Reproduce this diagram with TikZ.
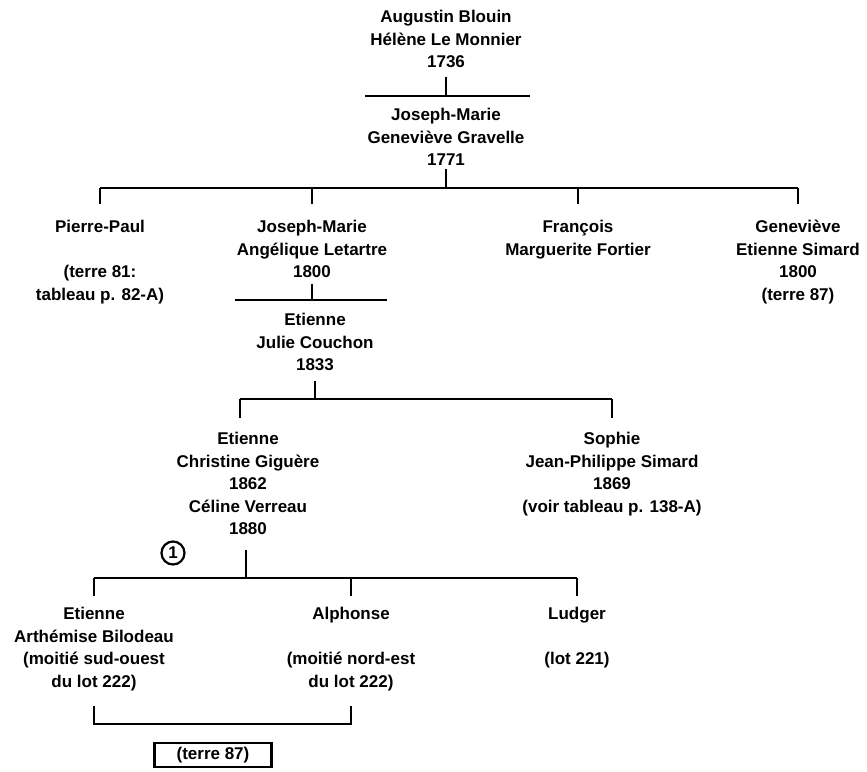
\documentclass[tikz,border=0pt]{standalone}
\usepackage{fontspec}
\setmainfont{Liberation Sans}
\usetikzlibrary{positioning}
\tikzset{fam/.style={align=center, anchor=north, inner sep=0pt, font=\bfseries\fontsize{17}{22.5}\selectfont},
         bar/.style={line width=2.2pt}}

\begin{document}
\begin{tikzpicture}[x=1pt,y=-1pt]
                   \useasboundingbox (0,0) rectangle (867,771);
                   \node[fam] (aug) at (446,10) {Augustin Blouin\\Hélène Le Monnier\\1736};
                   \node[fam] (jm1) at (446,108) {Joseph-Marie\\Geneviève Gravelle\\1771};
                   \node[fam] (pp) at (100,220) {Pierre-Paul\\[22.5pt](terre 81:\\tableau p. 82-A)};
                   \node[fam] (jm2) at (312,220) {Joseph-Marie\\Angélique Letartre\\1800};
                   \node[fam] (fr) at (578,220) {François\\Marguerite Fortier};
                   \node[fam] (gv) at (798,220) {Geneviève\\Etienne Simard\\1800\\(terre 87)};
                   \node[fam] (et3) at (315,313) {Etienne\\Julie Couchon\\1833};
                   \node[fam] (et4) at (248,432) {Etienne\\Christine Giguère\\1862\\Céline Verreau\\1880};
                   \node[fam] (so4) at (612,432) {Sophie\\Jean-Philippe Simard\\1869\\(voir tableau p. 138-A)};
                   \node[fam] (e5) at (94,607) {Etienne\\Arthémise Bilodeau\\(moitié sud-ouest\\du lot 222)};
                   \node[fam] (al) at (351,607) {Alphonse\\[22.5pt](moitié nord-est\\du lot 222)};
                   \node[fam] (lu) at (577,607) {Ludger\\[22.5pt](lot 221)};
                   \node[fam, anchor=center, draw, line width=2.6pt, minimum width=117pt, minimum height=24pt] (tb) at (213,755) {(terre 87)};
                   \node[fam, anchor=center, draw, circle, line width=2.2pt, minimum size=23pt] (c1) at (173,553) {1};

                   \coordinate (b0l) at (365,96);
                   \coordinate (b0r) at (530,96);
                   \coordinate (b1) at (447,188);
                   \coordinate (b2l) at (235,300);
                   \coordinate (b2r) at (387,300);
                   \coordinate (b3l) at (240,399);
                   \coordinate (b4) at (246,578);
                   \coordinate (kb) at (220,724);

                   % 1736
                   \draw[bar] (b0l) -- (b0r);
                   \draw[bar, shorten <=9pt] (aug.south) -- (aug.south |- b0l);
                   % 1771
                   \draw[bar, shorten <=3pt] (jm1.south) -- (jm1.south |- b1);
                   \draw[bar] (pp.north |- b1) -- (gv.north |- b1);
                   \foreach \n in {pp,jm2,fr,gv}
                       \draw[bar, shorten >=16pt] (\n.north |- b1) -- (\n.north);
                   % 1800
                   \draw[bar] (b2l) -- (b2r);
                   \draw[bar, shorten <=6pt] (jm2.south) -- (jm2.south |- b2l);
                   % 1833
                   \draw[bar, shorten <=10pt] (et3.south) -- (et3.south |- b3l);
                   \draw[bar] (b3l) -- (so4.north |- b3l);
                   \draw[bar, shorten >=14pt] (b3l) -- (b3l |- et4.north);
                   \draw[bar, shorten >=14pt] (so4.north |- b3l) -- (so4.north);
                   % 1880
                   \draw[bar, shorten <=15pt] (et4.south -| b4) -- (b4);
                   \draw[bar] (e5.north |- b4) -- (lu.north |- b4);
                   \foreach \n in {e5,al,lu}
                       \draw[bar, shorten >=11pt] (\n.north |- b4) -- (\n.north);
                   \draw[bar, shorten <=15pt, shorten >=15pt] (e5.south) |- (kb) -| (al.south);
\end{tikzpicture}
\end{document}
